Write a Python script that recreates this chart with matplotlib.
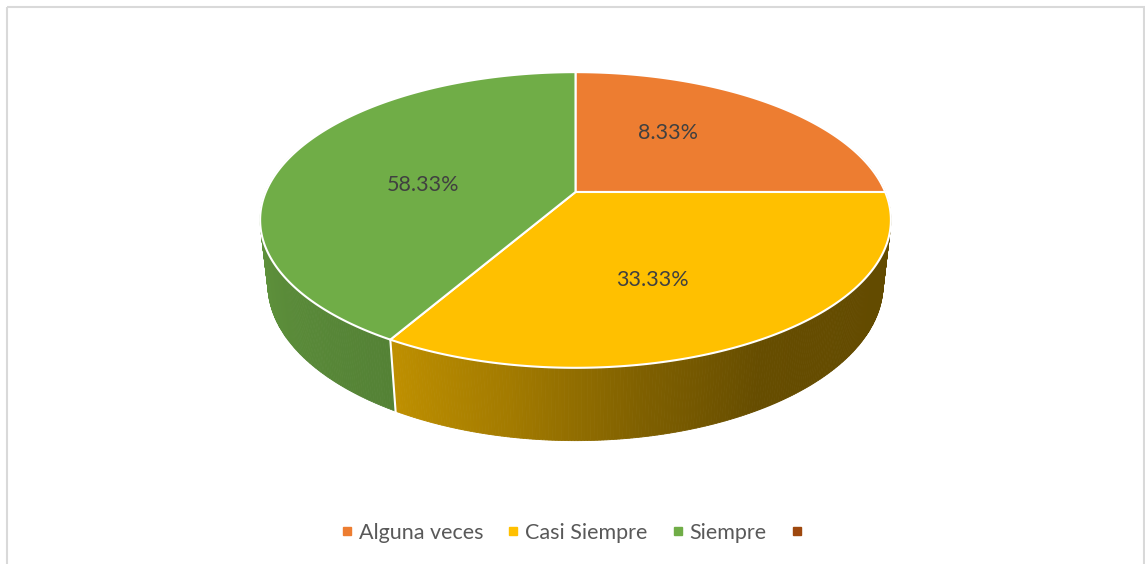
import numpy as np
import matplotlib.pyplot as plt
from matplotlib.patches import Polygon, Rectangle
from matplotlib.lines import Line2D

categories = ["Alguna veces", "Casi Siempre", "Siempre", ""]
values = [3, 4, 5, 0]
value_labels = ["8.33%", "33.33%", "58.33%", ""]
colors = ["#ED7D31", "#FFC000", "#70AD47", "#9E480E"]

# where each label sits on the pie top (angle in degrees, radius fraction)
label_pos = [(54, 0.553), (174.3, 0.501), (292, 0.596)]
label_slice = [0, 2, 1]

# simple perspective camera, output in pixel space
CX, CY = 575.5, 192
F, D = 1417, 4.667
SX = 1.02
ELEV = np.radians(28)
H = 0.243


def proj(theta, r=1.0, h=0.0):
    u, v = r * np.cos(theta), r * np.sin(theta)
    s, c = np.sin(ELEV), np.cos(ELEV)
    depth = D + v * c - h * s
    return CX + SX * F * u / depth, CY - F * (h * c + v * s) / depth


def shade(theta):
    t = np.degrees(theta) % 360
    return np.interp(t, [0, 180, 240, 260, 280, 300, 330, 360],
                     [0.39, 0.87, 0.75, 0.64, 0.50, 0.40, 0.39, 0.39])


def darker(col, k):
    rgb = np.array(plt.matplotlib.colors.to_rgb(col))
    return tuple(np.clip(rgb * k, 0, 1))


fig = plt.figure(figsize=(11.45, 5.64), dpi=100)
ax = fig.add_axes([0, 0, 1, 1])
ax.set_xlim(0, 1145)
ax.set_ylim(564, 0)
ax.axis("off")

total = sum(values)
bounds = []
start = 90.0
for v in values:
    end = start - 360.0 * v / total
    bounds.append((start, end))
    start = end

# side walls, farthest strips first
strips = []
for (a0, a1), col, v in zip(bounds, colors, values):
    if v == 0:
        continue
    th = np.radians(np.linspace(a1, a0, int(abs(a0 - a1)) * 2 + 2))
    for t0, t1 in zip(th[:-1], th[1:]):
        mid = (t0 + t1) / 2
        if np.sin(mid) > 0.3:
            continue
        pts = [proj(t0), proj(t1), proj(t1, 1, -H), proj(t0, 1, -H)]
        strips.append((np.sin(mid), pts, darker(col, shade(mid))))
strips.sort(key=lambda s: -s[0])
for _, pts, fc in strips:
    ax.add_patch(Polygon(pts, closed=True, facecolor=fc, edgecolor=fc, lw=0.6))

# white seams on the visible side
for a0, a1 in bounds:
    t = np.radians(a1)
    if np.sin(t) < -np.cos(ELEV) / D:
        x0, y0 = proj(t)
        x1, y1 = proj(t, 1, -H)
        ax.plot([x0, x1], [y0, y1], color="white", lw=1.5)

# top surface
for (a0, a1), col, v in zip(bounds, colors, values):
    if v == 0:
        continue
    th = np.radians(np.linspace(a0, a1, 200))
    pts = [proj(0, 0)] + [proj(t) for t in th]
    ax.add_patch(Polygon(pts, closed=True, facecolor=col, edgecolor="white",
                         lw=1.5, joinstyle="round"))

for (ang, r), i in zip(label_pos, label_slice):
    x, y = proj(np.radians(ang), r)
    ax.text(x, y, value_labels[i], ha="center", va="center",
            fontsize=15.5, color="#404040", family="Lato")

handles = [Line2D([], [], marker="s", linestyle="none", markersize=6,
                  color=c) for c in colors]
fig.legend(handles, categories, loc="center", bbox_to_anchor=(0.5, 0.055),
           ncol=4, frameon=False, handletextpad=0.05, columnspacing=0.9,
           handlelength=1.0, prop={"family": "Lato", "size": 15.5},
           labelcolor="#595959")

ax.add_patch(Rectangle((7, 7), 1137, 570, fill=False, edgecolor="#D9D9D9", lw=1.5))

fig.savefig("out.png", dpi=100)
